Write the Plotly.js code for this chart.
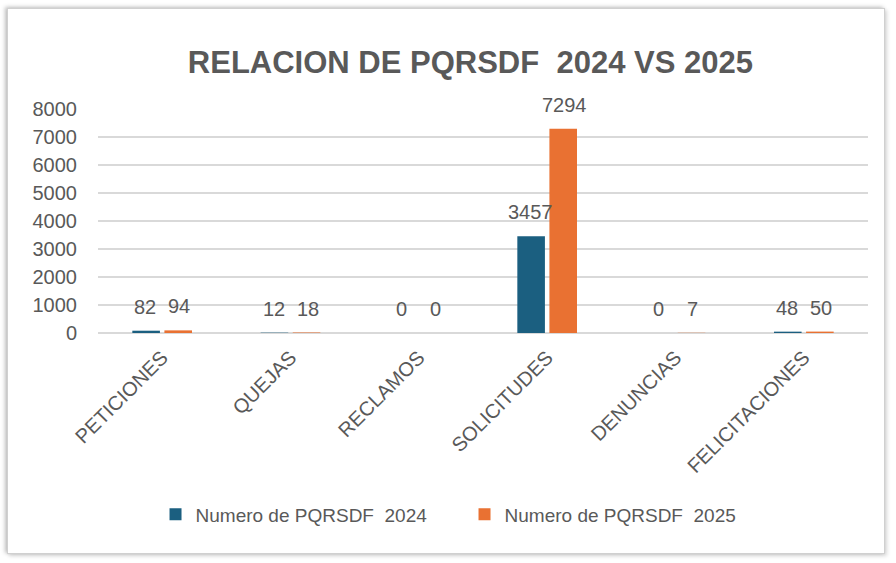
<!DOCTYPE html>
<html>
<head>
<meta charset="utf-8">
<script src="https://cdn.plot.ly/plotly-3.0.1.min.js"></script>
<style>
html,body{margin:0;padding:0;background:#fff;width:896px;height:563px;overflow:hidden;}
#card{position:absolute;left:7px;top:8px;width:876px;height:544px;border:1px solid #d0d0d0;box-shadow:-2px -1px 4px rgba(0,0,0,0.25), 2px 2px 4px rgba(0,0,0,0.15);background:#fff;}
#chart{position:absolute;left:0;top:0;width:896px;height:563px;}
</style>
</head>
<body>
<div id="card"></div>
<div id="chart"></div>
<script>
const categories = ["PETICIONES","QUEJAS","RECLAMOS","SOLICITUDES","DENUNCIAS","FELICITACIONES"];
const values2024 = [82, 12, 0, 3457, 0, 48];
const values2025 = [94, 18, 0, 7294, 7, 50];
const seriesNames = ["Numero de PQRSDF  2024", "Numero de PQRSDF  2025"];
const yTicks = [0,1000,2000,3000,4000,5000,6000,7000,8000];

const colors = ["#1b5f80", "#e97132"];
const gray = "#595959";
const fontFam = "Liberation Sans, Arial, sans-serif";

const traces = [values2024, values2025].map((vals, k) => ({
  type: "bar",
  x: categories,
  y: vals,
  name: seriesNames[k],
  marker: {color: colors[k]},
  hoverinfo: "none"
}));

const annotations = [];
[values2024, values2025].forEach((vals, k) => {
  vals.forEach((v, i) => {
    annotations.push({
      x: categories[i], y: v, xref: "x", yref: "y",
      text: String(v), showarrow: false,
      xshift: k === 0 ? -17 : 17, yshift: 11, yanchor: "bottom",
      font: {family: fontFam, size: 20, color: gray}
    });
  });
});

const layout = {
  width: 896, height: 563,
  paper_bgcolor: "rgba(0,0,0,0)", plot_bgcolor: "rgba(0,0,0,0)",
  margin: {l: 98, r: 28, t: 109, b: 230},
  title: {text: "<b>RELACION DE PQRSDF  2024 VS 2025</b>", x: 0.525, xanchor: "center", y: 0.89, yanchor: "middle",
    font: {family: fontFam, size: 31, color: gray}},
  barmode: "group", bargap: 0.5, bargroupgap: 0.14,
  xaxis: {
    type: "category", tickangle: -45, showgrid: false, zeroline: false,
    showline: false, ticks: "",
    tickfont: {family: fontFam, size: 20, color: gray}, ticklabelstandoff: 8
  },
  yaxis: {
    range: [0, 8000], tickvals: yTicks, ticktext: yTicks.map(String),
    showgrid: true, gridcolor: "#d9d9d9", gridwidth: 1.3,
    zeroline: true, zerolinecolor: "#d9d9d9", zerolinewidth: 1.3,
    showline: false, ticks: "",
    tickfont: {family: fontFam, size: 20, color: gray}, ticklabelstandoff: 20
  },
  legend: {orientation: "h", x: 0.476, xanchor: "center", y: -0.81, yanchor: "middle",
    font: {family: fontFam, size: 19, color: gray}, itemwidth: 30, entrywidth: 264, traceorder: "normal"},
  annotations: annotations,
  showlegend: true
};

Plotly.newPlot("chart", traces, layout, {staticPlot: true, displayModeBar: false});
</script>
</body>
</html>
